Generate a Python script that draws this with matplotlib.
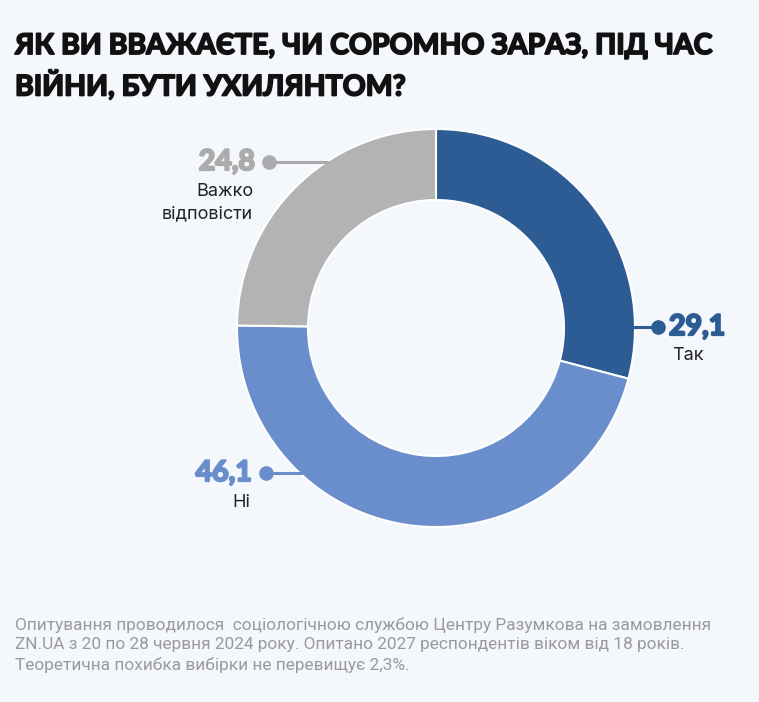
import numpy as np
import matplotlib
matplotlib.use("Agg")
import matplotlib.pyplot as plt
import matplotlib.patheffects as pe

# data
labels = ["Так", "Ні", "Важко\nвідповісти"]
values = [29.1, 46.1, 24.8]
colors = ["#2D5B93", "#6A8ECB", "#B3B3B3"]
value_colors = ["#2D5B93", "#6A8ECB", "#ABABAB"]

title = "ЯК ВИ ВВАЖАЄТЕ, ЧИ СОРОМНО ЗАРАЗ, ПІД ЧАС\nВІЙНИ, БУТИ УХИЛЯНТОМ?"
note = ("Опитування проводилося  соціологічною службою Центру Разумкова на замовлення\n"
        "ZN.UA з 20 по 28 червня 2024 року. Опитано 2027 респондентів віком від 18 років.\n"
        "Теоретична похибка вибірки не перевищує 2,3%.")

W, H = 759, 702
BG = "#F4F7FC"
CX, CY, R, RING = 436, 328, 199, 71

# label anchor points in pixels (dot position, side)
anchors = [(658, 327, "right"), (266, 473, "left"), (269, 162, "left")]

fig = plt.figure(figsize=(W / 100, H / 100), dpi=100, facecolor=BG)
ax = fig.add_axes([0, 0, 1, 1])
ax.set_facecolor(BG)

ax.pie(values, colors=colors, startangle=90, counterclock=False,
       center=(CX, H - CY), radius=R,
       wedgeprops=dict(width=RING, edgecolor="white", linewidth=1.5))

ax.set_xlim(0, W)
ax.set_ylim(0, H)
ax.set_aspect("equal")
ax.axis("off")


def heavy(c, w=1.0):
    return [pe.withStroke(linewidth=w, foreground=c)]


for val, lab, vc, (dx, dy, side) in zip(values, labels, value_colors, anchors):
    y = H - dy
    ring_x = np.sqrt(R ** 2 - (dy - CY) ** 2)
    edge = CX + ring_x - 2 if side == "right" else CX - ring_x + 2
    ax.plot([edge, dx], [y, y], color=vc, lw=2.2, solid_capstyle="butt", zorder=3)
    ax.plot(dx, y, "o", color=vc, ms=9.5, zorder=4)
    txt = f"{val:.1f}".replace(".", ",")
    if side == "right":
        ax.text(dx + 11, y, txt, color=vc, fontsize=20.5, fontweight="bold",
                family="Lato", ha="left", va="center", path_effects=heavy(vc, 1.6))
        ax.text(dx + 14, y - 29, lab, color="#222222", fontsize=13,
                family="Inter", ha="left", va="center", linespacing=1.4)
    else:
        ax.text(dx - 14, y, txt, color=vc, fontsize=20.5, fontweight="bold",
                family="Lato", ha="right", va="center", path_effects=heavy(vc, 1.6))
        ax.text(dx - 16, y - 21, lab, color="#222222", fontsize=13,
                family="Inter", ha="right", va="top", linespacing=1.4)

fig.text(15 / W, 1 - 33 / H, title, color="#111111", fontsize=20.5,
         fontweight="bold", family="Lato", ha="left", va="top",
         linespacing=1.45, path_effects=heavy("#111111", 1.3))
fig.text(15 / W, 1 - 617 / H, note, color="#9A9A9A", fontsize=12.4,
         family="Roboto", ha="left", va="top", linespacing=1.35)

fig.savefig("out.png", dpi=100, facecolor=BG)
